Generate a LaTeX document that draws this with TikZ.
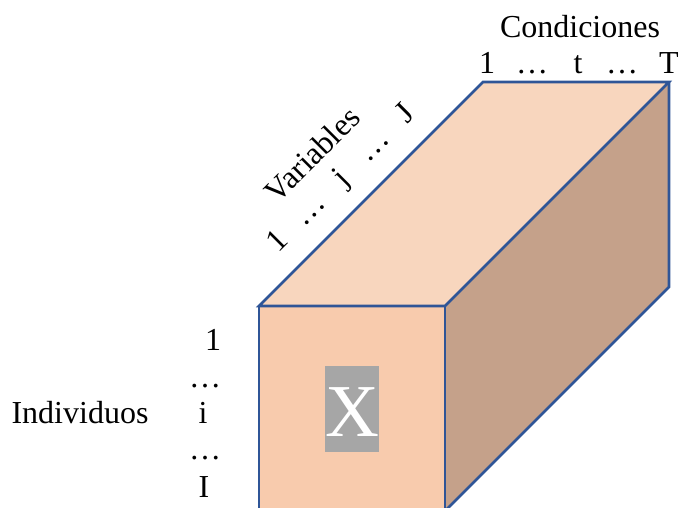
\documentclass[tikz,border=0pt]{standalone}
\usepackage{fontspec}
\setmainfont{Liberation Serif}
\definecolor{frontc}{RGB}{248,203,173}
\definecolor{topc}{RGB}{248,214,190}
\definecolor{sidec}{RGB}{197,161,138}
\definecolor{edgec}{RGB}{47,85,151}
\definecolor{xgray}{RGB}{166,166,166}
\begin{document}
\begin{tikzpicture}[x=0.75pt,y=-0.75pt,
  face/.style={draw=edgec,line width=2pt,line join=miter},
  lbl/.style={font=\fontsize{24}{28}\selectfont,anchor=base,inner sep=0pt,text=black},
  diag/.style={lbl,rotate=45}]
\useasboundingbox (0,0) rectangle (681,507);
\begin{scope}
\clip (0,0) rectangle (681,507);
\coordinate (A) at (259,306);
\coordinate (B) at (445,306);
\coordinate (C) at (669,82);
\coordinate (D) at (483,82);
\coordinate (E) at (669,287);
\coordinate (F) at (445,511);
\coordinate (G) at (259,511);
\fill[topc] (A) -- (D) -- (C) -- (B) -- cycle;
\fill[sidec] (B) -- (C) -- (E) -- (F) -- cycle;
\fill[frontc] (A) -- (B) -- (F) -- (G) -- cycle;
\draw[face] (A) -- (D) -- (C) -- (B) -- cycle;
\draw[face] (C) -- (E) -- (F);
\draw[face] (G) -- (A) -- (B) -- (F);
\end{scope}
\node[fill=xgray,minimum width=54*0.75pt,minimum height=86*0.75pt,inner sep=0pt] (xbox) at (352,409) {};
\node[lbl,text=white,font=\fontsize{56}{60}\selectfont] (xlab) at (352,436) {X};
% Condiciones
\node[lbl] (cond) at (580,37) {Condiciones};
\node[lbl] (c1) at (487,73) {1};
\node[lbl] (c2) at (532,73) {…};
\node[lbl] (c3) at (578,73) {t};
\node[lbl] (c4) at (622,73) {…};
\node[lbl] (c5) at (669,73) {T};
% Variables
\node[diag] (var) at (320,162) {Variables};
\node[diag] (v1) at (284,248) {1};
\node[diag] (v2) at (316,216) {…};
\node[diag] (v3) at (348,184) {j};
\node[diag] (v4) at (380,152) {…};
\node[diag] (v5) at (412,120) {J};
% Individuos
\node[lbl] (ind) at (80,423) {Individuos};
\node[lbl] (i1) at (213,350) {1};
\node[lbl] (i2) at (205,387) {…};
\node[lbl] (i3) at (203,423) {i};
\node[lbl] (i4) at (205,459) {…};
\node[lbl] (i5) at (204,497) {I};
\end{tikzpicture}
\end{document}
